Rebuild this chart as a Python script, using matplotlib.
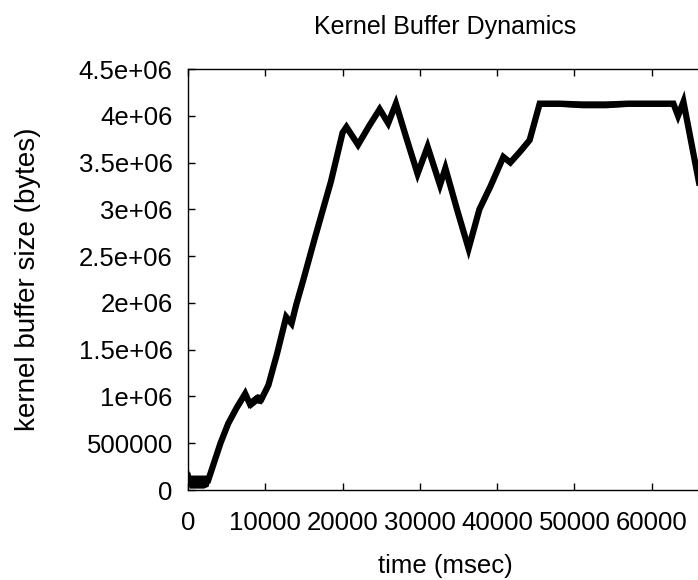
import matplotlib
matplotlib.use("Agg")
import matplotlib.pyplot as plt
import numpy as np

# kernel buffer trace (time in msec, size in bytes)
time_ms = [0, 200, 1000, 2000, 2600, 3200, 4200, 5200, 6300, 7400, 8000, 8900,
           9500, 10400, 11500, 12700, 13400, 14000, 14900, 16400, 18500, 20000,
           20500, 22000, 23500, 24800, 25900, 26900, 28300, 29700, 31000, 32600,
           33300, 34800, 36300, 37700, 39100, 40800, 41700, 43000, 44200, 45500,
           48000, 51000, 54000, 57000, 60000, 62800, 63400, 64100, 66500]
buf_mid = [0.15e6, 0.09e6, 0.09e6, 0.09e6, 0.10e6, 0.25e6, 0.50e6, 0.71e6, 0.88e6,
           1.03e6, 0.92e6, 0.98e6, 0.97e6, 1.12e6, 1.45e6, 1.85e6, 1.78e6, 1.98e6,
           2.24e6, 2.69e6, 3.30e6, 3.82e6, 3.88e6, 3.69e6, 3.90e6, 4.07e6, 3.92e6,
           4.13e6, 3.75e6, 3.38e6, 3.67e6, 3.26e6, 3.44e6, 3.00e6, 2.58e6, 3.00e6,
           3.24e6, 3.56e6, 3.50e6, 3.62e6, 3.74e6, 4.13e6, 4.13e6, 4.12e6, 4.12e6,
           4.13e6, 4.13e6, 4.13e6, 4.00e6, 4.15e6, 3.12e6]
# half width of the noisy band around the trace
buf_spread = [0.10e6, 0.07e6, 0.07e6, 0.07e6, 0.06e6, 0.03e6, 0.03e6, 0.03e6, 0.04e6,
              0.05e6, 0.05e6, 0.05e6, 0.05e6, 0.03e6, 0.03e6, 0.03e6, 0.03e6, 0.03e6,
              0.03e6, 0.03e6, 0.03e6, 0.03e6, 0.03e6, 0.03e6, 0.03e6, 0.03e6, 0.03e6,
              0.03e6, 0.03e6, 0.03e6, 0.03e6, 0.03e6, 0.03e6, 0.03e6, 0.03e6, 0.03e6,
              0.03e6, 0.03e6, 0.03e6, 0.03e6, 0.03e6, 0.03e6, 0.03e6, 0.035e6, 0.035e6,
              0.03e6, 0.03e6, 0.03e6, 0.03e6, 0.03e6, 0.03e6]

yticks = [0, 500000, 1e6, 1.5e6, 2e6, 2.5e6, 3e6, 3.5e6, 4e6, 4.5e6]
ytick_labels = ["0", "500000", "1e+06", "1.5e+06", "2e+06", "2.5e+06",
                "3e+06", "3.5e+06", "4e+06", "4.5e+06"]
xticks = [0, 10000, 20000, 30000, 40000, 50000, 60000]

plt.rcParams['font.family'] = ['Liberation Sans', 'DejaVu Sans']

fig = plt.figure(figsize=(6.98, 5.80), dpi=100)
W, H = 698, 580
# plot box (pixels): left 188, right ~702 (runs just off the picture), top 69, bottom 490
ax = fig.add_axes([188 / W, (H - 490) / H, (702 - 188) / W, (490 - 69) / H])

t = np.array(time_ms)
mid = np.array(buf_mid)
spread = np.array(buf_spread)
ax.fill_between(t, mid - spread, mid + spread, color='black', lw=0)
ax.plot(t, mid, color='black', lw=4.5, solid_joinstyle='miter')

ax.set_xlim(0, 66500)
ax.set_ylim(0, 4.5e6)
ax.set_xticks(xticks)
ax.set_xticklabels([str(x) for x in xticks])
ax.set_yticks(yticks)
ax.set_yticklabels(ytick_labels)

ax.tick_params(direction='in', length=5, width=1, top=True, right=False,
               labelsize=18.5, colors='black')
ax.tick_params(axis='x', pad=15)
ax.tick_params(axis='y', pad=11)
for sp in ax.spines.values():
    sp.set_linewidth(1)
    sp.set_color('black')

ax.set_xlabel("time (msec)", fontsize=18.5, labelpad=14)
ax.set_ylabel("kernel buffer size (bytes)", fontsize=20, labelpad=27)
fig.text(445 / W, 1 - 27 / H, "Kernel Buffer Dynamics", fontsize=18,
         ha='center', va='center')

fig.savefig("out.png", dpi=100)
